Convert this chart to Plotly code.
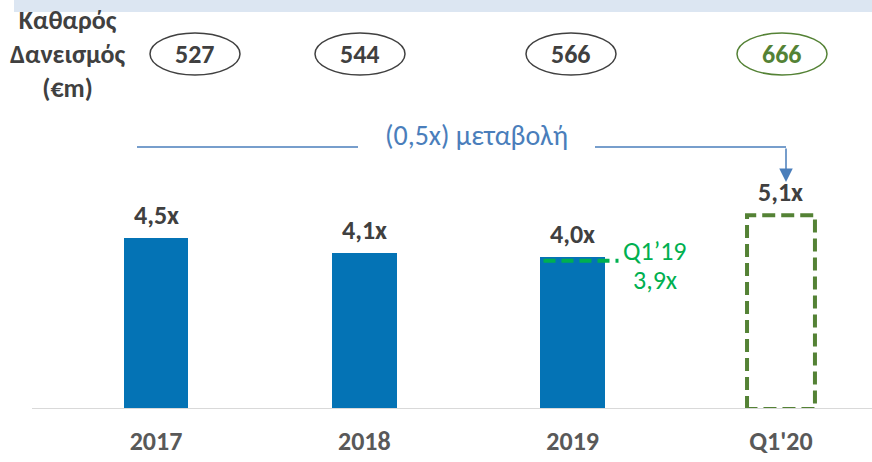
import plotly.graph_objects as go

# Net debt / EBITDA multiple by period
categories = ["2017", "2018", "2019", "Q1'20"]
leverage = [4.5, 4.1, 4.0, 5.1]
leverage_labels = ["4,5x", "4,1x", "4,0x", "5,1x"]
net_debt = [527, 544, 566, 666]
q1_19_value = 3.9
q1_19_title = "Q1’19"
q1_19_label = "3,9x"
change_label = "(0,5x) μεταβολή"
row_title = "Καθαρός<br>Δανεισμός<br>(€m)"

FONT = "Carlito, Lato, 'Open Sans', sans-serif"
DARK = "#404040"
AXIS_GREY = "#595959"
BLUE_BAR = "#0473B5"
GREEN_DASH = "#548235"
GREEN_Q1 = "#00B050"
ARROW_BLUE = "#4A7EBB"

W, H = 872, 462
BASE_PX = 409          # baseline pixel row
PX_PER_UNIT = 38.0     # vertical scale (px per 1.0x)
X0_PX, STEP_PX = 156, 208.33   # first category centre / category pitch


def xd(px):
    """pixel column -> x data coordinate"""
    return (px - X0_PX) / STEP_PX


def yd(px):
    """pixel row -> y data coordinate"""
    return (BASE_PX - px) / PX_PER_UNIT


x_pos = list(range(len(categories)))
bar_w = 0.31

fig = go.Figure()

# historical years as solid bars
fig.add_trace(go.Bar(
    x=x_pos[:3], y=leverage[:3], width=bar_w,
    marker=dict(color=BLUE_BAR, line=dict(width=0)),
    hoverinfo="skip", showlegend=False,
))

# latest quarter as dashed outline
qx = x_pos[3]
qv = leverage[3]
hw = 0.163
fig.add_trace(go.Scatter(
    x=[qx - hw, qx - hw, qx + hw, qx + hw, qx - hw],
    y=[0, qv, qv, 0, 0],
    mode="lines",
    line=dict(color=GREEN_DASH, width=4, dash="13px,6px"),
    hoverinfo="skip", showlegend=False,
))

# Q1'19 reference line inside the 2019 bar
fig.add_trace(go.Scatter(
    x=[x_pos[2] - 0.14, x_pos[2] + 0.22], y=[q1_19_value, q1_19_value],
    mode="lines",
    line=dict(color=GREEN_Q1, width=4, dash="12px,6px"),
    hoverinfo="skip", showlegend=False,
))

ann = []
for xp, v, lab in zip(x_pos, leverage, leverage_labels):
    ann.append(dict(x=xp, y=v, text=f"<b>{lab}</b>", showarrow=False,
                    yanchor="middle", yshift=23,
                    font=dict(family=FONT, size=26, color=DARK)))

ann.append(dict(x=xd(655), y=q1_19_value, text=q1_19_title,
                showarrow=False, yanchor="middle", yshift=10,
                font=dict(family=FONT, size=26, color=GREEN_Q1)))
ann.append(dict(x=xd(655), y=q1_19_value, text=q1_19_label,
                showarrow=False, yanchor="middle", yshift=-19,
                font=dict(family=FONT, size=26, color=GREEN_Q1)))

# net debt values in ellipses along the top
ell_cx = [195, 360, 571, 782]
ell_half_w = 45
for cx, nd, col in zip(ell_cx, net_debt, [DARK, DARK, DARK, GREEN_DASH]):
    fig.add_shape(type="circle", xref="x", yref="y",
                  x0=xd(cx - ell_half_w), x1=xd(cx + ell_half_w),
                  y0=yd(75), y1=yd(33),
                  line=dict(color=col, width=1.5))
    ann.append(dict(x=xd(cx), y=yd(54), xref="x", yref="y",
                    text=f"<b>{nd}</b>", showarrow=False,
                    font=dict(family=FONT, size=26, color=col)))

ann.append(dict(x=xd(68), y=yd(54), xref="x", yref="y",
                text=f"<b>{row_title}</b>", showarrow=False, align="center",
                font=dict(family=FONT, size=26, color=DARK)))

# change bracket above the bars
fig.add_shape(type="line", xref="x", yref="y",
              x0=xd(137), x1=xd(358), y0=yd(147), y1=yd(147),
              line=dict(color=ARROW_BLUE, width=1.5))
fig.add_shape(type="line", xref="x", yref="y",
              x0=xd(595), x1=xd(786), y0=yd(147), y1=yd(147),
              line=dict(color=ARROW_BLUE, width=1.5))
ann.append(dict(x=xd(786), y=yd(182), ax=xd(786), ay=yd(147),
                xref="x", yref="y", axref="x", ayref="y",
                text="", showarrow=True, arrowhead=2, arrowsize=1.8,
                arrowwidth=1.5, arrowcolor=ARROW_BLUE))
ann.append(dict(x=xd(476), y=yd(135), xref="x", yref="y",
                text=change_label, showarrow=False,
                font=dict(family=FONT, size=28, color=ARROW_BLUE)))

# light top band
fig.add_shape(type="rect", xref="paper", yref="y",
              x0=14 / W, x1=1, y0=yd(12), y1=yd(0),
              fillcolor="#DCE6F2", line=dict(width=0), layer="below")

# baseline
fig.add_shape(type="line", xref="paper", yref="y",
              x0=32 / W, x1=1, y0=0, y1=0,
              line=dict(color="#D9D9D9", width=2))

fig.update_layout(
    width=W, height=H,
    margin=dict(l=0, r=0, t=0, b=H - BASE_PX),
    paper_bgcolor="white", plot_bgcolor="white",
    annotations=ann,
    xaxis=dict(range=[xd(0), xd(W)], tickmode="array", tickvals=x_pos,
               ticktext=[f"<b>{c}</b>" for c in categories],
               tickfont=dict(family=FONT, size=26, color=AXIS_GREY),
               showgrid=False, zeroline=False, showline=False,
               ticks="", ticklabelstandoff=14, fixedrange=True),
    yaxis=dict(range=[0, yd(0)], visible=False, fixedrange=True),
    bargap=0,
)

fig.write_html("out.html")
